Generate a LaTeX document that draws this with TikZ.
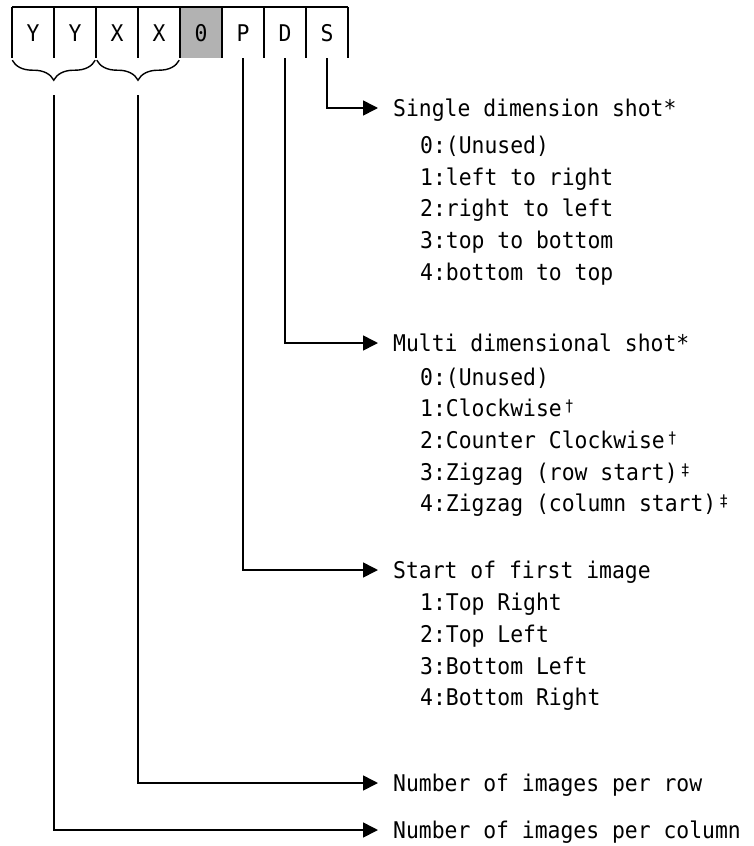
\documentclass[tikz,border=0pt]{standalone}
\usepackage{fontspec}
\setmonofont[FakeStretch=0.93]{DejaVu Sans Mono}
\usepackage{tikz}
\usetikzlibrary{arrows.meta,decorations.pathreplacing}
\tikzset{font=\ttfamily\fontsize{23}{32}\selectfont}
\tikzstyle{cell}=[minimum width=42pt,minimum height=51pt,inner sep=0pt,text height=17pt,text depth=0pt]
\tikzstyle{txt}=[anchor=west,inner sep=0pt,text height=17pt,text depth=0pt]
\tikzstyle{wall}=[line width=1.6pt]
\tikzstyle{brc}=[line width=1.4pt,decorate,decoration={brace,mirror,amplitude=20pt}]
\tikzstyle{elbow}=[to path={|- (\tikztotarget)}]
\newcommand{\dg}{\kern3pt{\fontsize{16}{16}\selectfont\raisebox{5pt}{†}}}
\newcommand{\ddg}{\kern3pt{\fontsize{16}{16}\selectfont\raisebox{5pt}{‡}}}

\begin{document}
\begin{tikzpicture}[x=1pt,y=-1pt]
\useasboundingbox (0,0) rectangle (754,846);
% the eight cells
\node[cell] (Y1) at (33,32.5) {Y};
\node[cell] (Y2) at (75,32.5) {Y};
\node[cell] (X1) at (117,32.5) {X};
\node[cell] (X2) at (159,32.5) {X};
\node[cell,fill=black!30] (O) at (201,32.5) {0};
\node[cell] (P) at (243,32.5) {P};
\node[cell] (D) at (285,32.5) {D};
\node[cell] (S) at (327,32.5) {S};
\draw[wall] (Y1.north west) -- (S.north east);
\draw[wall] (Y1.north west) -- (Y1.south west)
 (Y2.north west) -- (Y2.south west)
 (X1.north west) -- (X1.south west)
 (X2.north west) -- (X2.south west)
 (O.north west) -- (O.south west)
 (P.north west) -- (P.south west)
 (D.north west) -- (D.south west)
 (S.north west) -- (S.south west)
 (S.north east) -- (S.south east);
% braces
\draw[brc] ([xshift=0.5pt,yshift=-2pt]Y1.south west) -- ([xshift=-1pt,yshift=-2pt]Y2.south east);
\draw[brc] ([xshift=1pt,yshift=-2pt]X1.south west) -- ([xshift=-1pt,yshift=-2pt]X2.south east);
\coordinate (Ybr) at (54,95);
\coordinate (Xbr) at (138,95);
% S
\node[txt] (Sttl) at (393,108) {Single dimension shot*};
\node[txt] (S0) at (420,145) {0:(Unused)};
\node[txt] (S1) at (420,177) {1:left to right};
\node[txt] (S2) at (420,208) {2:right to left};
\node[txt] (S3) at (420,240) {3:top to bottom};
\node[txt] (S4) at (420,272) {4:bottom to top};
% D
\node[txt] (Dttl) at (393,343) {Multi dimensional shot*};
\node[txt] (D0) at (420,377) {0:(Unused)};
\node[txt] (D1) at (420,408) {1:Clockwise\dg};
\node[txt] (D2) at (420,440) {2:Counter Clockwise\dg};
\node[txt] (D3) at (420,472) {3:Zigzag (row start)\ddg};
\node[txt] (D4) at (420,503) {4:Zigzag (column start)\ddg};
% P
\node[txt] (Pttl) at (393,570) {Start of first image};
\node[txt] (P1) at (420,602) {1:Top Right};
\node[txt] (P2) at (420,634) {2:Top Left};
\node[txt] (P3) at (420,666) {3:Bottom Left};
\node[txt] (P4) at (420,697) {4:Bottom Right};
% XX, YY
\node[txt] (Xttl) at (393,783) {Number of images per row};
\node[txt] (Yttl) at (393,830) {Number of images per column};
\path[wall,>={Triangle[length=15pt,width=15pt]},shorten >=15pt,->]
(S) edge[elbow] (Sttl)
(D) edge[elbow] (Dttl)
(P) edge[elbow] (Pttl)
(Xbr) edge[elbow] (Xttl)
(Ybr) edge[elbow] (Yttl);
\end{tikzpicture}
\end{document}
